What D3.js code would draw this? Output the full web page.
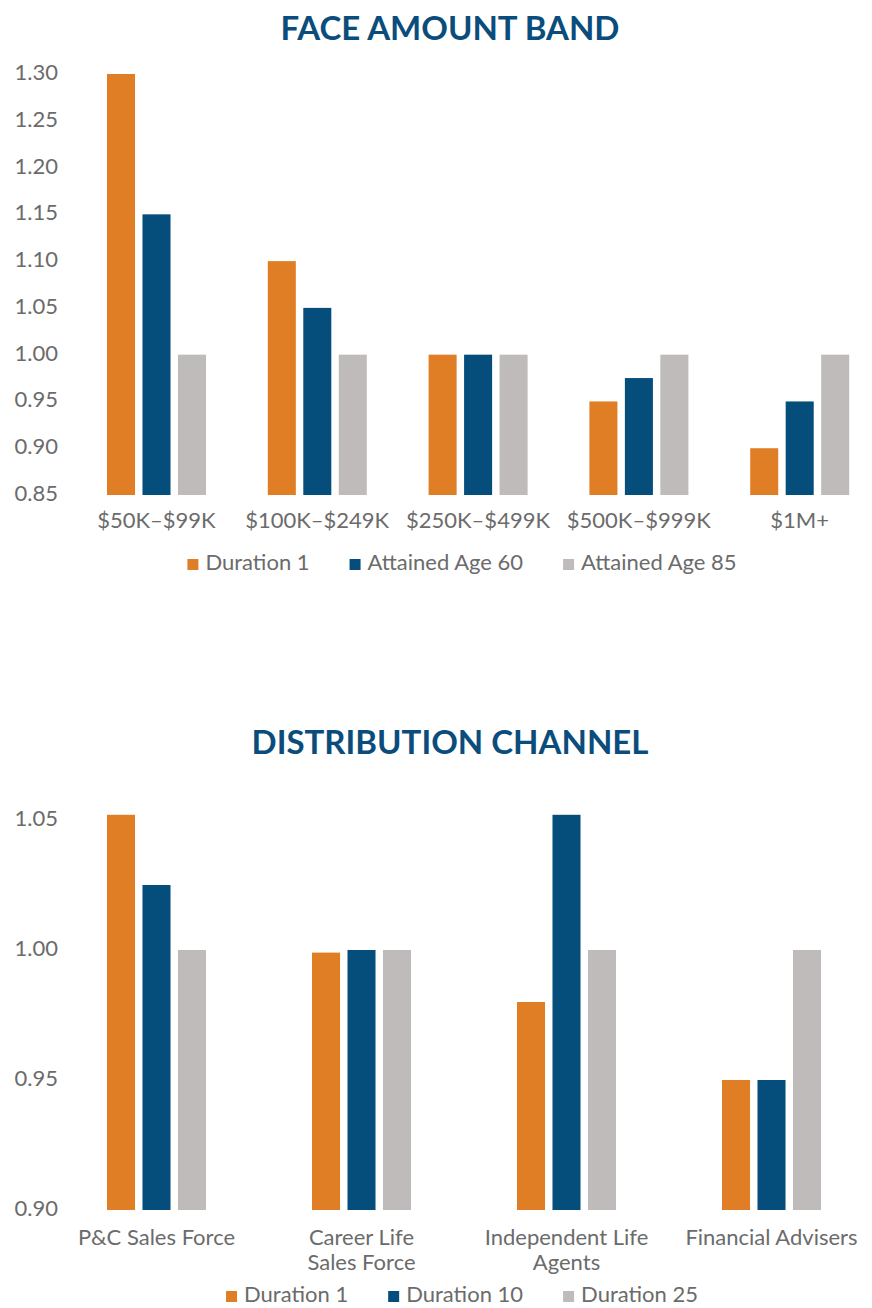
<!DOCTYPE html>
<html>
<head>
<meta charset="utf-8">
<script src="https://cdn.jsdelivr.net/npm/d3@7"></script>
<style>
  html, body { margin: 0; padding: 0; background: #fff; }
  text { font-family: "Lato", "Open Sans", sans-serif; }
</style>
</head>
<body>
<div id="chart"></div>
<script>

// Face amount band
var faceBands = ["$50K–$99K", "$100K–$249K", "$250K–$499K", "$500K–$999K", "$1M+"];
var faceSeries = ["Duration 1", "Attained Age 60", "Attained Age 85"];
var faceDuration1 = [1.30, 1.10, 1.00, 0.95, 0.90];
var faceAge60     = [1.15, 1.05, 1.00, 0.975, 0.95];
var faceAge85     = [1.00, 1.00, 1.00, 1.00, 1.00];
var faceTicks = [0.85, 0.90, 0.95, 1.00, 1.05, 1.10, 1.15, 1.20, 1.25, 1.30];

// Distribution channel
var channels = ["P&C Sales Force", "Career Life\nSales Force", "Independent Life\nAgents", "Financial Advisers"];
var channelSeries = ["Duration 1", "Duration 10", "Duration 25"];
var channelDuration1  = [1.052, 0.999, 0.98, 0.95];
var channelDuration10 = [1.025, 1.00, 1.052, 0.95];
var channelDuration25 = [1.00, 1.00, 1.00, 1.00];
var channelTicks = [0.90, 0.95, 1.00, 1.05];

var colors = ["#E07E26", "#054E7C", "#BFBBBA"];
var labelColor = "#6b6b6b";
var titleColor = "#0a4d7c";

var w = 872, h = 1308;

var svg = d3.select("#chart")
    .append("svg")
    .attr("width", w)
    .attr("height", h);

svg.append("rect").attr("width", w).attr("height", h).attr("fill", "#fff");

function drawChart(opt) {
    var g = svg.append("g");

    var x0 = d3.scaleBand()
        .domain(opt.categories)
        .range(opt.xRange);

    var x1 = d3.scaleBand()
        .domain(opt.series)
        .range(opt.innerRange)
        .paddingInner(0.21);

    var y = d3.scaleLinear()
        .domain(opt.yDomain)
        .range([opt.base, opt.top]);

    // title
    g.append("text")
        .attr("x", 450)
        .attr("y", opt.titleY)
        .attr("text-anchor", "middle")
        .attr("font-size", "33px")
        .attr("font-weight", "bold")
        .attr("fill", titleColor)
        .text(opt.title);

    // y axis, labels only
    var yAxis = d3.axisLeft(y)
        .tickValues(opt.ticks)
        .tickFormat(d3.format(".2f"))
        .tickSize(0)
        .tickPadding(0);

    var ya = g.append("g")
        .attr("transform", "translate(58,0)")
        .call(yAxis);
    ya.select(".domain").remove();
    ya.selectAll("text")
        .attr("dy", "0.25em")
        .attr("font-family", "Lato, sans-serif")
        .attr("font-size", "22px")
        .attr("fill", labelColor);

    // bars
    var rows = opt.categories.map(function(c, i) {
        return opt.series.map(function(s, j) {
            return {cat: c, key: s, value: opt.values[j][i], idx: j};
        });
    });

    g.selectAll("g.group")
        .data(rows)
        .enter()
        .append("g")
        .attr("class", "group")
        .attr("transform", function(d, i) {
            return "translate(" + x0(opt.categories[i]) + ",0)";
        })
        .selectAll("rect")
        .data(function(d) { return d; })
        .enter()
        .append("rect")
        .attr("x", function(d) { return x1(d.key); })
        .attr("y", function(d) { return y(d.value); })
        .attr("width", x1.bandwidth())
        .attr("height", function(d) { return opt.base - y(d.value); })
        .attr("fill", function(d) { return colors[d.idx]; });

    // category labels (may be two lines)
    var labels = g.selectAll("text.cat")
        .data(opt.categories)
        .enter()
        .append("text")
        .attr("class", "cat")
        .attr("text-anchor", "middle")
        .attr("font-size", "22px")
        .attr("fill", labelColor)
        .attr("y", opt.base + opt.labelOffset);

    labels.each(function(d) {
        var t = d3.select(this);
        d.split("\n").forEach(function(line, k) {
            t.append("tspan")
                .attr("x", x0(d) + x0.bandwidth() / 2)
                .attr("dy", k === 0 ? 0 : 25)
                .text(line);
        });
    });

    // legend
    var leg = g.append("g");
    var items = leg.selectAll("g")
        .data(opt.series)
        .enter()
        .append("g");

    items.append("rect")
        .attr("y", opt.legendY - 11)
        .attr("width", 11)
        .attr("height", 11)
        .attr("fill", function(d, i) { return colors[i]; });

    items.append("text")
        .attr("x", 18)
        .attr("y", opt.legendY)
        .attr("font-size", "22px")
        .attr("fill", labelColor)
        .text(function(d) { return d; });

    var pos = 0;
    items.each(function() {
        var item = d3.select(this);
        item.attr("transform", "translate(" + pos + ",0)");
        pos += 18 + item.select("text").node().getComputedTextLength() + 40;
    });
    var total = pos - 40;
    leg.attr("transform", "translate(" + (462 - total / 2) + ",0)");
}

drawChart({
    title: "FACE AMOUNT BAND",
    titleY: 40,
    categories: faceBands,
    series: faceSeries,
    values: [faceDuration1, faceAge60, faceAge85],
    ticks: faceTicks,
    yDomain: [0.85, 1.30],
    base: 495,
    top: 74,
    xRange: [76, 880],
    innerRange: [31, 130],
    labelOffset: 33,
    legendY: 570
});

drawChart({
    title: "DISTRIBUTION CHANNEL",
    titleY: 754,
    categories: channels,
    series: channelSeries,
    values: [channelDuration1, channelDuration10, channelDuration25],
    ticks: channelTicks,
    yDomain: [0.90, 1.05],
    base: 1210,
    top: 820,
    xRange: [54, 874],
    innerRange: [53, 152],
    labelOffset: 35,
    legendY: 1302
});

</script>
</body>
</html>
